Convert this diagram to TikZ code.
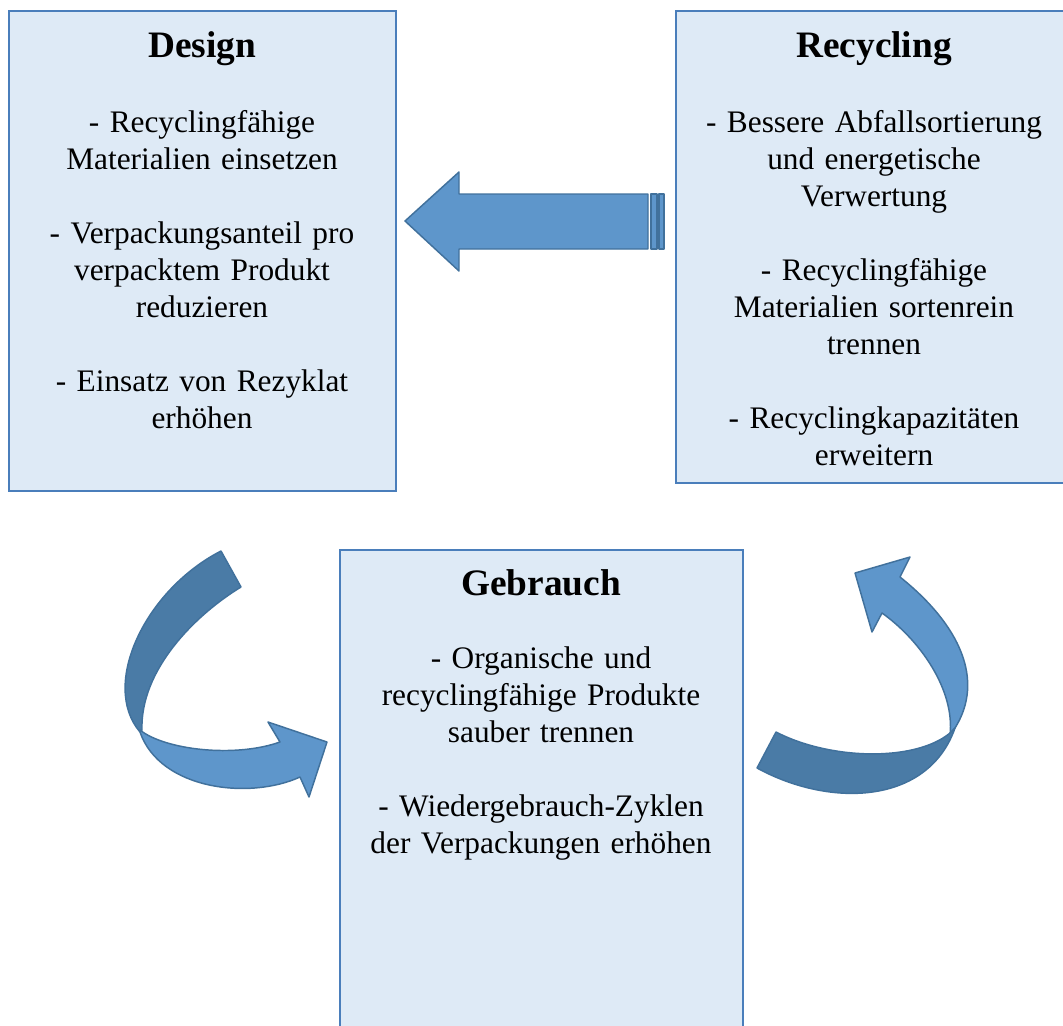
\documentclass[tikz,border=0pt]{standalone}
\usepackage{fontspec}
\setmainfont{Liberation Serif}
\definecolor{boxfill}{RGB}{222,234,246}
\definecolor{boxline}{RGB}{74,126,187}
\definecolor{arrlight}{RGB}{94,150,203}
\definecolor{arrdark}{RGB}{74,123,166}
\definecolor{arrline}{RGB}{65,113,156}
\begin{document}
\begin{tikzpicture}[x=0.75pt,y=-0.75pt,
  boxshape/.style={draw=boxline,fill=boxfill,line width=1.5pt,rectangle,anchor=north west,inner sep=0pt,outer sep=0pt},
  titletext/.style={anchor=base,inner sep=0pt,font=\fontsize{28}{33}\selectfont\bfseries},
  bodytext/.style={anchor=base,inner sep=0pt,text width=300pt,align=center,font=\fontsize{23.5}{27.75}\selectfont},
  light/.style={fill=arrlight,draw=arrline,line width=1.1pt,line join=round},
  dark/.style={fill=arrdark,draw=arrline,line width=1.1pt,line join=round}]
\useasboundingbox (0,0) rectangle (1063,1025);
\clip (0,0) rectangle (1063,1025);

% boxes
\node[boxshape,minimum width=290.25pt,minimum height=360pt] (design) at (9,11) {};
\node[boxshape,minimum width=297pt,minimum height=354pt] (recycling) at (676,11) {};
\node[boxshape,minimum width=302.25pt,minimum height=367.5pt] (gebrauch) at (340,550) {};

% titles
\node[titletext] (designT) at (202,57) {Design};
\node[titletext] (recyclingT) at (874,57) {Recycling};
\node[titletext] (gebrauchT) at (541,595) {Gebrauch};

% body texts
\node[bodytext] (designB) at (202,132) {- Recyclingfähige\\Materialien einsetzen\\[27.75pt]- Verpackungsanteil pro\\verpacktem Produkt\\reduzieren\\[27.75pt]- Einsatz von Rezyklat\\erhöhen};
\node[bodytext] (recyclingB) at (874,132) {- Bessere Abfallsortierung\\und energetische\\Verwertung\\[27.75pt]- Recyclingfähige\\Materialien sortenrein\\trennen\\[27.75pt]- Recyclingkapazitäten\\erweitern};
\node[bodytext] (gebrauchB) at (541,668) {- Organische und\\recyclingfähige Produkte\\sauber trennen\\[27.75pt]- Wiedergebrauch-Zyklen\\der Verpackungen erhöhen};

% straight striped arrow (Recycling -> Design)
\draw[light] (405,221) -- (459,172) -- (459,194) -- (648,194) -- (648,249) -- (459,249) -- (459,271) -- cycle;
\draw[light] (651,194) rectangle (657,249);
\draw[light] (659,194) rectangle (664,249);

% curved arrow left (Design -> Gebrauch)
\draw[dark] (221,551) .. controls (145,590) and (100,685) .. (140,732)
  -- (142,730) .. controls (140,670) and (195,615) .. (241,587) -- cycle;
\draw[light] (140,732) .. controls (160,790) and (250,800) .. (300,777)
  -- (309,797) -- (327,742) -- (268,722) -- (280,742)
  .. controls (235,758) and (165,750) .. (140,730) -- cycle;

% curved arrow right (Gebrauch -> Recycling)
\draw[light] (955,728) .. controls (985,680) and (960,625) .. (900,577)
  -- (910,557) -- (855,573) -- (872,632) -- (882,613)
  .. controls (920,640) and (955,690) .. (950,735) -- cycle;
\draw[dark] (757,768) -- (776,732) .. controls (830,760) and (915,762) .. (950,733)
  -- (955,728) .. controls (928,805) and (830,808) .. (757,768) -- cycle;
\end{tikzpicture}
\end{document}
